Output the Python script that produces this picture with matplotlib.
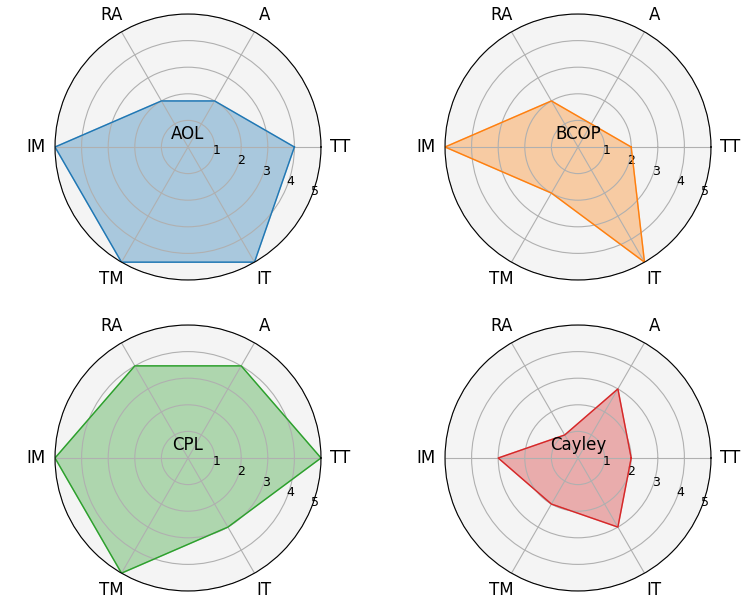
import numpy as np
import matplotlib
matplotlib.use("Agg")
import matplotlib.pyplot as plt

categories = ["TT", "A", "RA", "IM", "TM", "IT"]
names = ["AOL", "BCOP", "CPL", "Cayley"]
aol = [4, 2, 2, 5, 5, 5]
bcop = [2, 1, 2, 5, 2, 5]
cpl = [5, 4, 4, 5, 5, 3]
cayley = [2, 3, 1, 3, 2, 3]
series = [aol, bcop, cpl, cayley]
colors = ["#1f77b4", "#ff7f0e", "#2ca02c", "#d62728"]
rticks = [1, 2, 3, 4, 5]

W, H = 751, 595
fig = plt.figure(figsize=(W / 100, H / 100), dpi=100)

centers = [(188, 147), (578, 147), (188, 458), (578, 458)]
R = 133

angles = np.linspace(0, 2 * np.pi, len(categories), endpoint=False)
for (cx, cy), name, vals, col in zip(centers, names, series, colors):
    ax = fig.add_axes([(cx - R) / W, (H - cy - R) / H, 2 * R / W, 2 * R / H],
                      projection="polar")
    ax.set_facecolor("#f4f4f4")
    v = np.concatenate([vals, vals[:1]])
    a = np.concatenate([angles, angles[:1]])
    ax.plot(a, v, color=col, linewidth=1)
    ax.fill(a, v, color=col, alpha=0.35)
    ax.set_xticks(angles)
    ax.set_xticklabels(categories, fontsize=12)
    ax.set_ylim(0, 5)
    ax.set_yticks(rticks)
    ax.set_yticklabels([str(t) for t in rticks], fontsize=9)
    ax.set_rlabel_position(-22.5)
    ax.set_title(name, y=0.5, fontsize=12)

fig.savefig("out.png", dpi=100)
